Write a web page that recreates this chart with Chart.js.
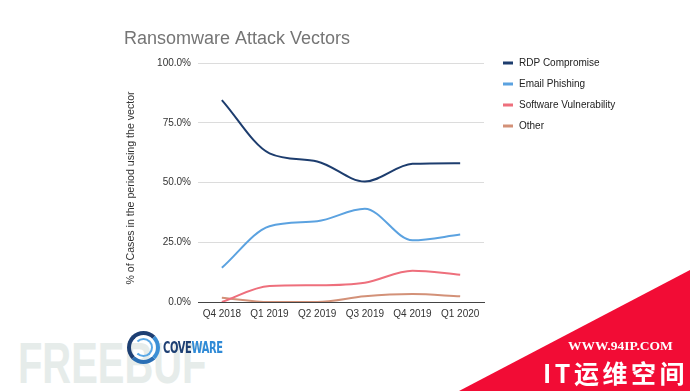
<!DOCTYPE html>
<html>
<head>
<meta charset="utf-8">
<script src="https://cdn.jsdelivr.net/npm/chart.js@4"></script>
<style>
  body { margin: 0; background: #fff; }
  #wrap { position: relative; width: 690px; height: 391px; overflow: hidden; font-family: "Liberation Sans", Arial, sans-serif; }
  #chartCanvas { position: absolute; left: 0; top: 0; }
  .fb { position: absolute; left: 18px; top: 335px; font-size: 57px; line-height: 1; font-weight: bold; color: #e6ecea; transform: scaleX(0.70); transform-origin: left top; white-space: nowrap; }
  .ring { position: absolute; left: 127px; top: 331px; width: 25px; height: 25px; border-radius: 50%; border: 4px solid #1d3f73; border-right-color: #3b8fd6; border-bottom-color: #2a6fb5; }
  .ring2 { position: absolute; left: 134px; top: 338px; width: 15px; height: 15px; border-radius: 50%; border: 2px solid #5aa8e6; border-left-color: transparent; }
  .logo { position: absolute; left: 163px; top: 340px; line-height: 16px; font-family: "DejaVu Sans Condensed", "DejaVu Sans", sans-serif; font-weight: bold; font-size: 16px; letter-spacing: -0.5px; transform: scaleX(0.69); transform-origin: left top; white-space: nowrap; }
  .red { position: absolute; left: 0; top: 0; width: 690px; height: 391px; background: #f20c35; clip-path: polygon(459px 391px, 690px 270px, 690px 391px); }
  .url { position: absolute; left: 568px; top: 339px; line-height: 1; color: #fff; font-family: "Liberation Serif", serif; font-weight: bold; font-size: 13.5px; white-space: nowrap; }
  .cn { position: absolute; left: 543px; top: 353px; color: #fff; font-family: "Noto Sans CJK SC", sans-serif; font-weight: bold; font-size: 25px; letter-spacing: 3.5px; line-height: 38px; white-space: nowrap; }
</style>
</head>
<body>
<div id="wrap">
  <div class="fb">FREEBUF</div>
  <canvas id="chartCanvas" width="690" height="391"></canvas>
  <div class="ring"></div>
  <div class="ring2"></div>
  <div class="logo"><span style="color:#1d3f73">COVE</span><span style="color:#2f8ad6">WARE</span></div>
  <div class="red"></div>
  <div class="url">WWW.94IP.COM</div>
  <div class="cn">IT运维空间</div>
</div>
<script>
// data (percent of cases)
var quarters = ["Q4 2018", "Q1 2019", "Q2 2019", "Q3 2019", "Q4 2019", "Q1 2020"];
var rdpCompromise = [84.5, 62.2, 58.8, 50.4, 57.8, 58.1];
var emailPhishing = [14.3, 31.7, 33.8, 39.0, 25.8, 28.2];
var softwareVuln = [0.0, 6.7, 7.0, 8.1, 13.1, 11.4];
var otherVector = [1.8, 0.0, 0.0, 2.4, 3.3, 2.4];
var yTicks = [0, 25, 50, 75, 100];

var seriesNames = ["RDP Compromise", "Email Phishing", "Software Vulnerability", "Other"];
var seriesColors = ["#1d3d6e", "#5ba2e0", "#ee6f7c", "#d39178"];
var seriesData = [rdpCompromise, emailPhishing, softwareVuln, otherVector];

var datasets = seriesNames.map(function (name, i) {
  return {
    label: name,
    data: seriesData[i],
    borderColor: seriesColors[i],
    backgroundColor: seriesColors[i],
    borderWidth: 2,
    pointRadius: 0,
    cubicInterpolationMode: "monotone",
    fill: false,
  };
});

// title, axis title + legend drawn by hand so they sit where the original has them
var extras = {
  id: "extras",
  afterDraw: function (chart) {
    var c = chart.ctx;
    c.save();
    c.fillStyle = "#757575";
    c.font = "18px 'Liberation Sans', Arial, sans-serif";
    c.textBaseline = "alphabetic";
    c.fillText("Ransomware Attack Vectors", 124, 44);

    c.save();
    c.translate(131, 188);
    c.rotate(-Math.PI / 2);
    c.fillStyle = "#333";
    c.font = "10.6px 'Liberation Sans', Arial, sans-serif";
    c.textAlign = "center";
    c.textBaseline = "middle";
    c.fillText("% of Cases in the period using the vector", 0, 0);
    c.restore();

    c.font = "10px 'Liberation Sans', Arial, sans-serif";
    c.textBaseline = "middle";
    chart.data.datasets.forEach(function (ds, i) {
      var y = 63 + i * 21;
      c.fillStyle = ds.borderColor;
      c.fillRect(503, y - 1.5, 10, 3);
      c.fillStyle = "#222";
      c.fillText(ds.label, 519, y);
    });
    c.restore();
  },
};

var ctx = document.getElementById("chartCanvas").getContext("2d");
var chart = new Chart(ctx, {
  type: "line",
  data: { labels: quarters, datasets: datasets },
  plugins: [extras],
  options: {
    responsive: false,
    animation: false,
    layout: { padding: { left: 120, right: 206, top: 63, bottom: 69 } },
    plugins: { legend: { display: false }, tooltip: { enabled: false } },
    scales: {
      x: {
        offset: true,
        grid: { display: false, drawTicks: false },
        border: { color: "#444", width: 1 },
        ticks: { color: "#333", font: { size: 10, family: "'Liberation Sans', Arial" }, padding: 6, maxRotation: 0, autoSkip: false },
        afterFit: function (s) { s.height = 20; },
      },
      y: {
        min: 0,
        max: 100,
        afterBuildTicks: function (s) { s.ticks = yTicks.map(function (v) { return { value: v }; }); },
        grid: { color: function (c) { return c.tick.value === 0 ? "#444" : "#dcdcdc"; }, drawTicks: false },
        border: { display: false },
        ticks: {
          color: "#333",
          font: { size: 10, family: "'Liberation Sans', Arial" },
          padding: 7,
          callback: function (v) { return v.toFixed(1) + "%"; },
        },
        afterFit: function (s) { s.width = 78; },
      },
    },
  },
});
</script>
</body>
</html>
